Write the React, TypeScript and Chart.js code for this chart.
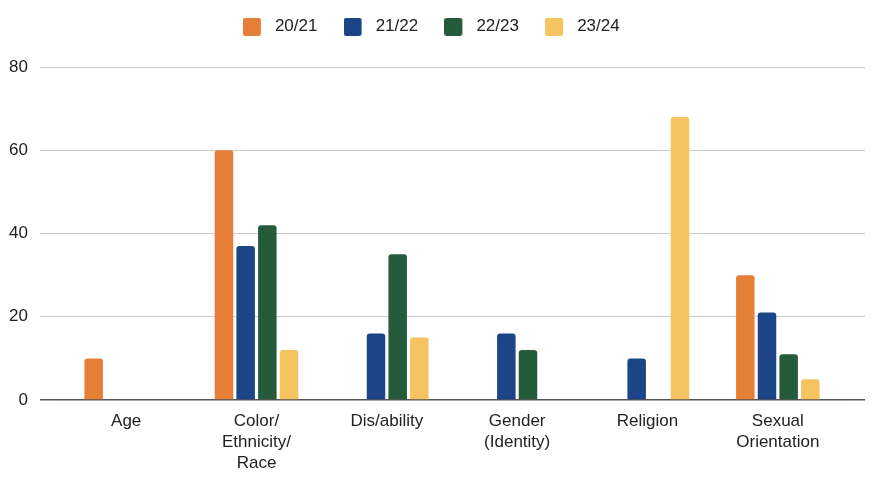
import React, { useEffect, useRef } from 'react';
import { Chart, registerables } from 'chart.js';

Chart.register(...registerables);

const categories: string[][] = [
  ['Age'],
  ['Color/', 'Ethnicity/', 'Race'],
  ['Dis/ability'],
  ['Gender', '(Identity)'],
  ['Religion'],
  ['Sexual', 'Orientation'],
];
const seriesLabels = ['20/21', '21/22', '22/23', '23/24'];
const values2021: (number | null)[] = [10, 60, null, null, null, 30];
const values2122: (number | null)[] = [null, 37, 16, 16, 10, 21];
const values2223: (number | null)[] = [null, 42, 35, 12, null, 11];
const values2324: (number | null)[] = [null, 12, 15, null, 68, 5];
const seriesColors = ['#E67E36', '#1C4587', '#245C3B', '#F5C461'];
const yMax = 80;
const yStep = 20;

const FONT = '"Liberation Sans", Arial, sans-serif';
const LEGEND_TOP = -24.4;
const LEGEND_HEIGHT = 91.4;

function swatch(color: string): HTMLCanvasElement {
  const c = document.createElement('canvas');
  c.width = 40;
  c.height = 18;
  const ctx = c.getContext('2d')!;
  ctx.fillStyle = color;
  ctx.beginPath();
  if ((ctx as any).roundRect) (ctx as any).roundRect(0, 0, 18, 18, 2.5);
  else ctx.rect(0, 0, 18, 18);
  ctx.fill();
  return c;
}

const legendHeightPlugin = {
  id: 'legendHeight',
  afterInit(chart: any) {
    const legend = chart.legend;
    if (!legend) return;
    const orig = legend.fit.bind(legend);
    legend.fit = function () {
      orig();
      this.height = LEGEND_HEIGHT;
    };
  },
};

export default function App() {
  const ref = useRef<HTMLCanvasElement>(null);

  useEffect(() => {
    if (!ref.current) return;
    const allValues = [values2021, values2122, values2223, values2324];
    const swatches = seriesColors.map(swatch);
    const gridColor = (ctx: any) => (ctx.tick && ctx.tick.value === 0 ? '#555555' : '#cccccc');
    const gridWidth = (ctx: any) => (ctx.tick && ctx.tick.value === 0 ? 1.5 : 1);
    const chart = new Chart(ref.current, {
      type: 'bar',
      data: {
        labels: categories,
        datasets: allValues.map((vals, i) => ({
          label: seriesLabels[i],
          data: vals,
          backgroundColor: seriesColors[i],
          borderWidth: 0,
          borderRadius: { topLeft: 3, topRight: 3, bottomLeft: 0, bottomRight: 0 },
          borderSkipped: 'start' as const,
          categoryPercentage: 0.665,
          barPercentage: 0.854,
          yAxisID: 'y',
        })),
      },
      plugins: [legendHeightPlugin],
      options: {
        responsive: false,
        animation: false,
        layout: { padding: { top: LEGEND_TOP, left: 0, right: 0, bottom: 0 } },
        plugins: {
          tooltip: { enabled: false },
          legend: {
            position: 'top',
            labels: {
              usePointStyle: true,
              pointStyleWidth: 7.1,
              boxHeight: 17,
              padding: 42.6,
              color: '#222222',
              font: { family: FONT, size: 17 },
              generateLabels: (ch: any) => {
                const items = Chart.defaults.plugins.legend.labels.generateLabels(ch);
                items.forEach((it: any, i: number) => {
                  it.pointStyle = swatches[i];
                });
                return items;
              },
            },
          },
        },
        scales: {
          x: {
            grid: { display: false, drawTicks: false },
            border: { display: false },
            ticks: {
              color: '#222222',
              font: { family: FONT, size: 17, lineHeight: '21px' },
              padding: 11,
              maxRotation: 0,
              autoSkip: false,
            },
            afterFit: (s: any) => {
              s.height = 86;
            },
          },
          y: {
            min: 0,
            max: yMax,
            ticks: {
              stepSize: yStep,
              color: '#222222',
              font: { family: FONT, size: 17 },
              padding: 12,
            },
            grid: { color: gridColor, lineWidth: gridWidth, tickLength: 21, drawTicks: true },
            border: { display: false },
            afterFit: (s: any) => {
              s.width = 61;
            },
          },
          y2: {
            position: 'right',
            min: 0,
            max: yMax,
            ticks: { stepSize: yStep, display: false },
            grid: { color: gridColor, lineWidth: gridWidth, tickLength: 22, drawOnChartArea: false, drawTicks: true },
            border: { display: false },
            afterFit: (s: any) => {
              s.width = 36;
            },
          },
        },
      } as any,
    });
    return () => chart.destroy();
  }, []);

  return (
    <div style={{ position: 'absolute', left: 0, top: 0, width: 879, height: 486, background: '#ffffff' }}>
      <canvas ref={ref} width={879} height={486} style={{ display: 'block' }} />
    </div>
  );
}
